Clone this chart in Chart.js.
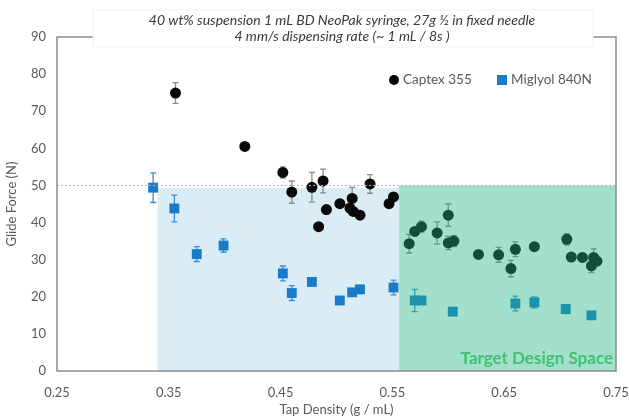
<!DOCTYPE html>
<html>
<head>
<meta charset="utf-8">
<script src="https://cdn.jsdelivr.net/npm/chart.js@4"></script>
<style>
  html, body { margin: 0; padding: 0; background: #fff; }
  #wrap { width: 629px; height: 418px; }
</style>
</head>
<body>
<div id="wrap"><canvas id="glide-chart" width="629" height="418"></canvas></div>
<script>
// values
const titleLines = ["40 wt% suspension 1 mL BD NeoPak syringe, 27g \u00bd in fixed needle", "4 mm/s dispensing rate (~ 1 mL / 8s )"];
const xTicks = [0.25, 0.35, 0.45, 0.55, 0.65, 0.75];

const captexX = [0.356, 0.418, 0.452, 0.460, 0.478, 0.488, 0.484, 0.491, 0.503, 0.514, 0.512, 0.515, 0.521, 0.530, 0.547, 0.551,
                 0.565, 0.570, 0.576, 0.590, 0.600, 0.600, 0.605, 0.627, 0.645, 0.656, 0.660, 0.677, 0.706, 0.710, 0.720, 0.728, 0.730, 0.733];
const captexY = [74.9, 60.5, 53.5, 48.2, 49.5, 51.2, 38.9, 43.5, 45.1, 46.5, 43.9, 43.0, 42.0, 50.4, 45.1, 46.9,
                 34.3, 37.6, 38.9, 37.2, 42.0, 34.5, 35.0, 31.4, 31.3, 27.6, 32.8, 33.5, 35.5, 30.7, 30.6, 28.3, 30.6, 29.6];
const captexErr = [2.8, 0.8, 1.5, 3, 4, 3.2, 0.8, 0.8, 0.8, 3, 1, 0.8, 0.8, 2.5, 1, 1,
                   2.5, 1, 1.5, 3, 3, 1.8, 1.5, 0.8, 2, 2.2, 2, 1, 1.5, 1, 0.8, 1.8, 2.3, 1];

const miglyolX = [0.336, 0.355, 0.375, 0.399, 0.452, 0.460, 0.478, 0.503, 0.514, 0.521, 0.551, 0.570, 0.576, 0.604, 0.660, 0.677, 0.705, 0.728];
const miglyolY = [49.4, 43.8, 31.5, 33.8, 26.3, 21.0, 24.0, 19.0, 21.2, 22.0, 22.5, 19.0, 19.0, 16.0, 18.2, 18.5, 16.7, 15.0];
const miglyolErr = [4, 3.6, 2, 1.8, 2, 2, 0.5, 0.5, 0.5, 0.5, 2, 3, 0.5, 0.5, 2, 1.5, 1.2, 0.5];

// shaded zones: [xFrom, xTo, yTop]
const lowZone = [0.340, 0.556, 49.3];
const targetZone = [0.556, 0.75, 50];
const limitY = 50;

function toPoints(xs, ys) {
    return xs.map((x, i) => ({ x: x, y: ys[i] }));
}

const fontFam = "Lato, 'Open Sans', sans-serif";
const greyText = "#595959";

// light blue box under the points, green box + error bars etc.
const decor = {
    id: "decor",
    beforeDatasetsDraw(chart) {
        const { ctx, scales: { x, y } } = chart;
        ctx.save();
        ctx.fillStyle = "#daedf6";
        ctx.fillRect(x.getPixelForValue(lowZone[0]), y.getPixelForValue(lowZone[2]),
            x.getPixelForValue(lowZone[1]) - x.getPixelForValue(lowZone[0]),
            y.getPixelForValue(0) - y.getPixelForValue(lowZone[2]));

        // error bars
        const bars = [[captexX, captexY, captexErr, "#8a8a8a"], [miglyolX, miglyolY, miglyolErr, "#3a8fd0"]];
        ctx.lineWidth = 1.3;
        bars.forEach(([xs, ys, es, col]) => {
            ctx.strokeStyle = col;
            xs.forEach((v, i) => {
                const px = x.getPixelForValue(v);
                const top = y.getPixelForValue(ys[i] + es[i]);
                const bot = y.getPixelForValue(ys[i] - es[i]);
                ctx.beginPath();
                ctx.moveTo(px, top); ctx.lineTo(px, bot);
                ctx.moveTo(px - 3, top); ctx.lineTo(px + 3, top);
                ctx.moveTo(px - 3, bot); ctx.lineTo(px + 3, bot);
                ctx.stroke();
            });
        });
        ctx.restore();
    },
    afterDatasetsDraw(chart) {
        const { ctx, chartArea: a, scales: { x, y } } = chart;
        ctx.save();
        // green target overlay, drawn over the points
        ctx.fillStyle = "rgba(32,180,129,0.41)";
        ctx.fillRect(x.getPixelForValue(targetZone[0]), y.getPixelForValue(targetZone[2]),
            x.getPixelForValue(targetZone[1]) - x.getPixelForValue(targetZone[0]),
            y.getPixelForValue(0) - y.getPixelForValue(targetZone[2]));

        // dotted 50 N line
        ctx.strokeStyle = "#b5b5b5";
        ctx.lineWidth = 1;
        ctx.setLineDash([2, 2]);
        ctx.beginPath();
        ctx.moveTo(a.left, y.getPixelForValue(limitY));
        ctx.lineTo(a.right, y.getPixelForValue(limitY));
        ctx.stroke();
        ctx.setLineDash([]);

        // frame
        ctx.strokeStyle = "#8c8c8c";
        ctx.lineWidth = 1.5;
        ctx.strokeRect(a.left, a.top, a.right - a.left, a.bottom - a.top);

        // title box
        ctx.fillStyle = "#fff";
        ctx.fillRect(93, 10, 500, 37);
        ctx.strokeStyle = "#f3f3f3";
        ctx.lineWidth = 1;
        ctx.strokeRect(93, 10, 500, 37);
        ctx.fillStyle = "#3a3a3a";
        ctx.font = "italic 14px " + fontFam;
        ctx.textAlign = "center";
        ctx.textBaseline = "middle";
        ctx.fillText(titleLines[0], 342, 20);
        ctx.fillText(titleLines[1], 342, 36);

        // legend
        ctx.font = "13.5px " + fontFam;
        ctx.textAlign = "left";
        ctx.fillStyle = "#000";
        ctx.beginPath();
        ctx.arc(394, 80, 5, 0, Math.PI * 2);
        ctx.fill();
        ctx.fillStyle = greyText;
        ctx.fillText(chart.data.datasets[0].label, 403, 80);
        ctx.fillStyle = "#1a7cc8";
        ctx.fillRect(497, 75, 10, 10);
        ctx.fillStyle = greyText;
        ctx.fillText(chart.data.datasets[1].label, 511, 80);

        // zone label
        ctx.font = "bold 17px " + fontFam;
        ctx.fillStyle = "#3ec271";
        ctx.textAlign = "right";
        ctx.fillText("Target Design Space", a.right - 3, 359);
        ctx.restore();
    }
};

const canvas = document.getElementById("glide-chart");
const ctx = canvas.getContext("2d");

var chart = new Chart(ctx, {
    type: "scatter",
    data: {
        datasets: [
            {
                label: "Captex 355",
                data: toPoints(captexX, captexY),
                pointStyle: "circle",
                pointRadius: 5.5,
                pointHoverRadius: 5.5,
                backgroundColor: "#0a0a0a",
                borderColor: "#0a0a0a",
                borderWidth: 0,
            },
            {
                label: "Miglyol 840N",
                data: toPoints(miglyolX, miglyolY),
                pointStyle: "rect",
                pointRadius: 7,
                pointHoverRadius: 7,
                backgroundColor: "#1a7cc8",
                borderColor: "#1a7cc8",
                borderWidth: 0,
            },
        ],
    },
    options: {
        responsive: false,
        animation: false,
        events: [],
        layout: { padding: { left: 0, right: 13, top: 37, bottom: 0 } },
        plugins: { legend: { display: false }, tooltip: { enabled: false } },
        scales: {
            x: {
                type: "linear",
                min: 0.25,
                max: 0.75,
                grid: { display: false, drawTicks: false },
                border: { display: false },
                afterBuildTicks: (axis) => { axis.ticks = xTicks.map(v => ({ value: v })); },
                afterFit: (axis) => { axis.height = 47; axis.paddingLeft = 0; axis.paddingRight = 0; },
                ticks: {
                    padding: 14,
                    color: greyText,
                    font: { family: fontFam, size: 13 },
                    callback: (v) => Number(v).toFixed(2),
                },
                title: {
                    display: true,
                    text: "Tap Density (g / mL)",
                    color: greyText,
                    font: { family: fontFam, size: 13 },
                    padding: { top: 2, bottom: 0 },
                },
            },
            y: {
                min: 0,
                max: 90,
                grid: { display: false, drawTicks: false },
                border: { display: false },
                afterFit: (axis) => { axis.width = 57; axis.paddingTop = 0; axis.paddingBottom = 0; },
                ticks: {
                    stepSize: 10,
                    padding: 11,
                    color: greyText,
                    font: { family: fontFam, size: 13 },
                },
                title: {
                    display: true,
                    text: "Glide Force (N)",
                    color: greyText,
                    font: { family: fontFam, size: 13 },
                    padding: { top: 4, bottom: 0 },
                },
            },
        },
    },
    plugins: [decor],
});
</script>
</body>
</html>
